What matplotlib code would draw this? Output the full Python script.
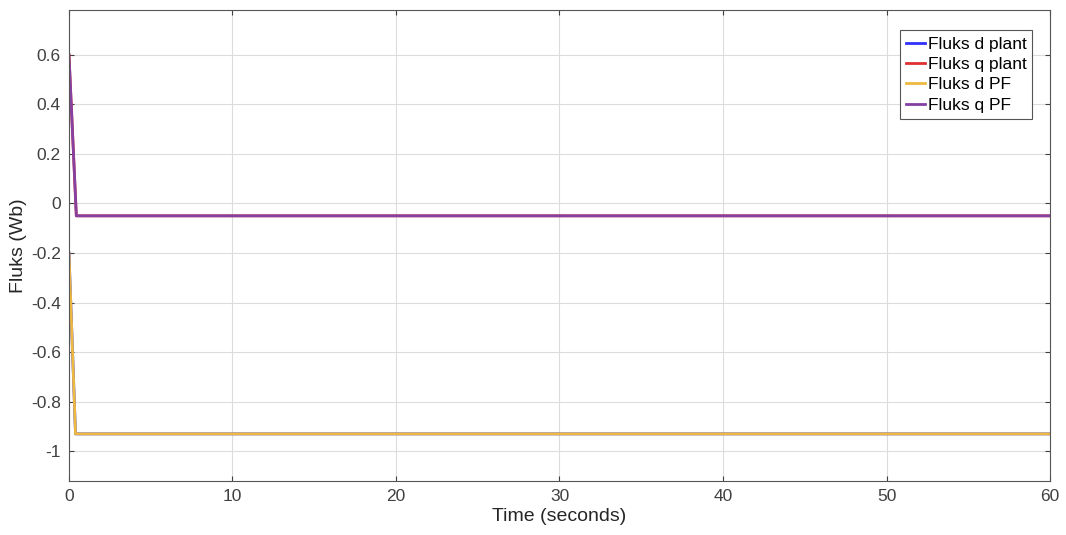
import numpy as np
import matplotlib
matplotlib.use("Agg")
import matplotlib.pyplot as plt

plt.rcParams['font.family'] = ['Liberation Sans', 'DejaVu Sans']

# time breakpoints (seconds) and flux values (Wb)
t_d = [0.0, 0.4, 60.0]
d_plant = [-0.2, -0.93, -0.93]
d_pf = [-0.2, -0.93, -0.93]

t_q = [0.0, 0.45, 60.0]
q_plant = [0.6, -0.05, -0.05]
q_pf = [0.6, -0.05, -0.05]

labels = ['Fluks d plant', 'Fluks q plant', 'Fluks d PF', 'Fluks q PF']
colors = ['#3030ff', '#e03030', '#edb940', '#8540a0']

fig = plt.figure(figsize=(10.66, 5.35), dpi=100)
ax = fig.add_axes([0.0647, 0.101, 0.9203, 0.880])

ax.plot(t_d, d_plant, color=colors[0], lw=2, label=labels[0])
ax.plot(t_q, q_plant, color=colors[1], lw=2, label=labels[1])
ax.plot(t_d, d_pf, color=colors[2], lw=2, label=labels[2])
ax.plot(t_q, q_pf, color=colors[3], lw=2, label=labels[3])

ax.set_xlim(0, 60)
ax.set_ylim(-1.12, 0.78)
ax.set_xticks(np.arange(0, 61, 10))
ax.set_yticks([-1, -0.8, -0.6, -0.4, -0.2, 0, 0.2, 0.4, 0.6])
ax.set_yticklabels(['-1', '-0.8', '-0.6', '-0.4', '-0.2', '0', '0.2', '0.4', '0.6'])
ax.grid(True, color='#dcdcdc', lw=0.8)
ax.tick_params(direction='in', top=True, right=True, labelsize=12.5,
               colors='#404040', pad=6)
for s in ax.spines.values():
    s.set_color('#555555')
    s.set_linewidth(0.8)

ax.set_xlabel('Time (seconds)', fontsize=14, labelpad=3, color='#262626')
ax.set_ylabel('Fluks (Wb)', fontsize=14, labelpad=3, color='#262626')

leg = ax.legend(loc='upper right', bbox_to_anchor=(0.982, 0.957), fontsize=12.5,
                fancybox=False, framealpha=1, edgecolor='#555555',
                handlelength=1.1, handletextpad=0.15, borderpad=0.35,
                labelspacing=0.3, borderaxespad=0)
leg.get_frame().set_linewidth(0.8)

fig.savefig('out.png', dpi=100)
